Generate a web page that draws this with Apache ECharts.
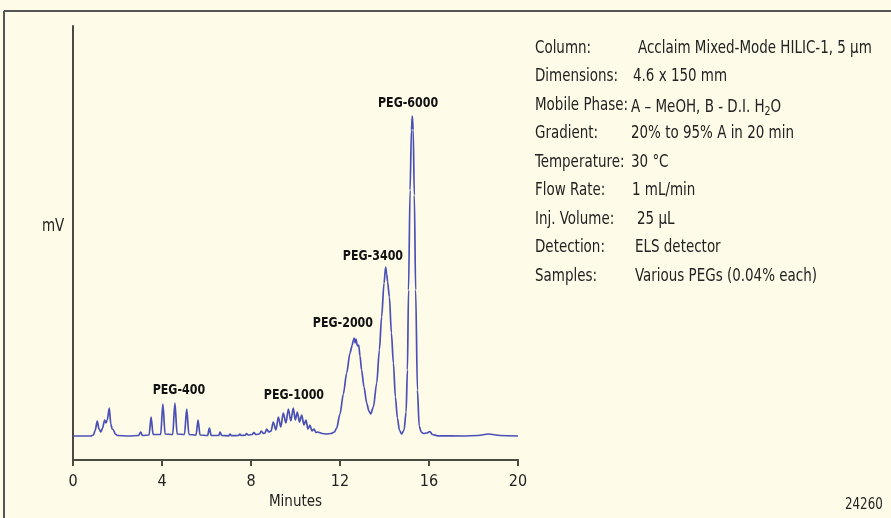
<!DOCTYPE html>
<html>
<head>
<meta charset="utf-8">
<title>PEG separation</title>
<script src="https://cdn.jsdelivr.net/npm/echarts@6/dist/echarts.min.js"></script>
<style>
  html, body { margin: 0; padding: 0; background: #fefce8; }
  #main { width: 891px; height: 518px; }
</style>
</head>
<body>
<div id="main"></div>
<script>
// retention time (min), detector signal (mV, arbitrary)
var trace = [
  [0.00, 24], [0.80, 24], [0.92, 25], [1.00, 30], [1.09, 39], [1.17, 31], [1.25, 28],
  [1.33, 32], [1.42, 40], [1.48, 37], [1.54, 40], [1.63, 52], [1.70, 36], [1.76, 31],
  [1.82, 30], [1.90, 26], [2.00, 24.5], [2.50, 24], [2.95, 24.5], [3.04, 28], [3.12, 24.5],
  [3.42, 25], [3.51, 43], [3.60, 25.5], [3.94, 25.5], [4.04, 56], [4.14, 26],
  [4.48, 25.5], [4.58, 57], [4.68, 26], [5.01, 25.5], [5.11, 51], [5.21, 25.5],
  [5.53, 25], [5.62, 40], [5.71, 25], [6.05, 24.5], [6.13, 32], [6.21, 24.5],
  [6.55, 24.5], [6.61, 28], [6.68, 24.5], [7.00, 24.2], [7.06, 26], [7.12, 24.3],
  [7.44, 24.5], [7.50, 26], [7.56, 24.5], [7.74, 24.8], [7.80, 26.5], [7.87, 25],
  [8.05, 25.5], [8.13, 27.5], [8.22, 25.5], [8.38, 26], [8.46, 29], [8.56, 26.5],
  [8.63, 27], [8.70, 31], [8.80, 28], [8.90, 29], [9.00, 38], [9.12, 30], [9.23, 43],
  [9.34, 33], [9.45, 47], [9.57, 37], [9.68, 51], [9.79, 39], [9.90, 52], [9.99, 40],
  [10.08, 48], [10.18, 38], [10.28, 45], [10.38, 35], [10.47, 40], [10.56, 31],
  [10.65, 35], [10.74, 29], [10.83, 31], [10.92, 27.5], [11.00, 28], [11.20, 26.5],
  [11.40, 26], [11.60, 26.5], [11.75, 28], [11.85, 32], [12.00, 46], [12.15, 66],
  [12.30, 87], [12.45, 107], [12.55, 115], [12.60, 120], [12.64, 122], [12.68, 117],
  [12.72, 121], [12.78, 114], [12.84, 115], [12.90, 104], [12.97, 90], [13.08, 73],
  [13.20, 57], [13.30, 49], [13.38, 46], [13.50, 53], [13.65, 77], [13.77, 110],
  [13.87, 143], [13.98, 177], [14.05, 193], [14.10, 186], [14.14, 178], [14.22, 163],
  [14.31, 127], [14.40, 97], [14.49, 63], [14.58, 42], [14.67, 30], [14.77, 26],
  [14.88, 30], [14.97, 48], [15.03, 90], [15.08, 170], [15.15, 270], [15.21, 330],
  [15.25, 344], [15.29, 330], [15.34, 265], [15.40, 170], [15.48, 70], [15.56, 34],
  [15.65, 28], [15.75, 26.5], [15.90, 27], [16.04, 28.5], [16.15, 25.5], [16.40, 24.2],
  [17.50, 24], [18.20, 24.5], [18.67, 26], [19.20, 24.5], [20.00, 24]
];

// peak annotations: name, time, signal where the label sits
var peakNames = ['PEG-400', 'PEG-1000', 'PEG-2000', 'PEG-3400', 'PEG-6000'];
var peakTimes = [4.76, 9.93, 12.13, 13.48, 15.06];
var peakLabelLevels = [70, 65, 137, 204, 357];

var conditionNames = ['Column:', 'Dimensions:', 'Mobile Phase:', 'Gradient:', 'Temperature:',
  'Flow Rate:', 'Inj. Volume:', 'Detection:', 'Samples:'];
var conditionValues = ['Acclaim Mixed-Mode HILIC-1, 5 µm', '4.6 x 150 mm',
  'A – MeOH, B - D.I. H{sub|2}O', '20% to 95% A in 20 min', '30 °C', '1 mL/min',
  '25 µL', 'ELS detector', 'Various PEGs (0.04% each)'];

var figureNumber = '24260';

var font = "'DejaVu Sans Condensed', 'Liberation Sans', sans-serif";
var inkColor = '#222222';
var squeeze = 0.88; // fake a condensed face
var valueX = [638, 633, 631, 631, 631, 632, 637, 635, 635];

function txt(x, y, s, size, extra) {
  var style = { text: s, fontSize: size, fontFamily: font, fill: inkColor };
  for (var k in extra) style[k] = extra[k];
  return { type: 'text', x: x, y: y, scaleX: squeeze, style: style, silent: true };
}

var graphics = [
  { type: 'line', shape: { x1: 4, y1: 11, x2: 891, y2: 11 }, style: { stroke: '#555', lineWidth: 2 } },
  { type: 'line', shape: { x1: 4, y1: 11, x2: 4, y2: 518 }, style: { stroke: '#555', lineWidth: 2 } },
  txt(42, 218, 'mV', 17),
  txt(845, 498, figureNumber, 15)
];
conditionNames.forEach(function (n, i) {
  var y = 40 + i * 28.5;
  graphics.push(txt(535, y, n, 17));
  graphics.push(txt(valueX[i], y, conditionValues[i], 17, {
    rich: { sub: { fontSize: 12, fontFamily: font, padding: [9, 0, 0, 0], fill: inkColor } }
  }));
});

var chart = echarts.init(document.getElementById('main'));
chart.setOption({
  backgroundColor: '#fefce8',
  animation: false,
  grid: { left: 73, right: 373, top: 26, bottom: 58 },
  xAxis: {
    type: 'value', min: 0, max: 20, interval: 4,
    name: 'Minutes', nameLocation: 'middle', nameGap: 35,
    nameTextStyle: { fontFamily: font, fontSize: 15, color: inkColor },
    axisLine: { lineStyle: { color: '#4a4a42', width: 2 } },
    axisTick: { length: 6, lineStyle: { color: '#4a4a42', width: 2 } },
    axisLabel: { margin: 14, fontFamily: font, fontSize: 16, color: inkColor },
    splitLine: { show: false }
  },
  yAxis: {
    type: 'value', min: 0, max: 434,
    axisLine: { show: true, lineStyle: { color: '#4a4a42', width: 2 } },
    axisTick: { show: false }, axisLabel: { show: false }, splitLine: { show: false }
  },
  series: [
    {
      type: 'line', data: trace, showSymbol: false, smooth: 0.3, smoothMonotone: 'x',
      lineStyle: { color: '#4a50b5', width: 1.7 }
    }
  ],
  graphic: graphics
});

// peak labels placed through the axes, then squeezed like the rest of the text
peakNames.forEach(function (n, i) {
  var p = chart.convertToPixel({ gridIndex: 0 }, [peakTimes[i], peakLabelLevels[i]]);
  graphics.push(txt(p[0], p[1], n, 14, { fontWeight: 'bold', fill: '#111',
    align: 'center', verticalAlign: 'middle' }));
});
chart.setOption({ graphic: graphics });
</script>
</body>
</html>
